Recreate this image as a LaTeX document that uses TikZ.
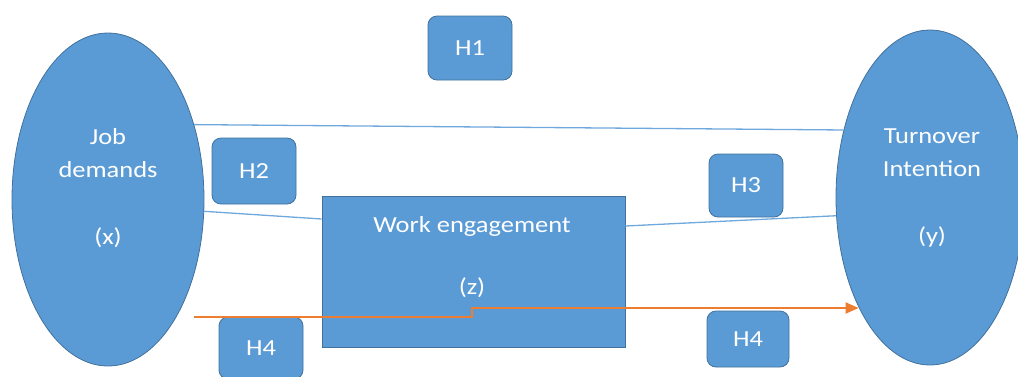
\documentclass[tikz,border=0pt]{standalone}
\usepackage{fontspec}
\setmainfont[FakeStretch=1.15]{Carlito}
\usetikzlibrary{shapes.geometric,arrows.meta,calc}
\definecolor{boxblue}{HTML}{5B9BD5}
\definecolor{edgeblue}{HTML}{41719C}
\definecolor{lineblue}{HTML}{6FA8DC}
\definecolor{arrorange}{HTML}{ED7D31}
\begin{document}
\begin{tikzpicture}[x=1pt,y=-1pt,
  oval/.style={ellipse,draw=edgeblue,fill=boxblue,line width=0.8pt,inner sep=0pt},
  hbox/.style={draw=edgeblue,fill=boxblue,line width=0.8pt,rounded corners=9pt,inner sep=0pt,
     text=white,font=\fontsize{23}{27}\selectfont},
  mainbox/.style={draw=edgeblue,fill=boxblue,line width=0.8pt,inner sep=0pt},
  lbl/.style={text=white,align=center,inner sep=0pt},
  link/.style={draw=lineblue,line width=1.3pt},
  olink/.style={draw=arrorange,line width=1.8pt,-{Triangle[length=13pt,width=11pt]}}
]
\useasboundingbox (0,0) rectangle (1018,376);
\clip (0,0) rectangle (1018,376);
% ovals
\node[oval,minimum width=192pt,minimum height=333pt] (jd) at (108,199.5) {};
\node[oval,minimum width=188pt,minimum height=335pt] (ti) at (930,197.5) {};
\node[lbl,font=\fontsize{23}{33.5}\selectfont] (jdt) at (108,188) {Job\\demands\\ \\(x)};
\node[lbl,font=\fontsize{23}{33.5}\selectfont] (tit) at (932,188) {Turnover\\Intention\\ \\(y)};
% main rectangle
\node[mainbox,minimum width=303pt,minimum height=151pt] (we) at (473.5,271.5) {};
\node[lbl,font=\fontsize{23}{31}\selectfont] (wet) at (472,257) {Work engagement\\ \\(z)};
% hypothesis boxes
\node[hbox,minimum width=84pt,minimum height=64pt] (h1) at (470,48) {H1};
\node[hbox,minimum width=84pt,minimum height=66pt] (h2) at (254,171) {H2};
\node[hbox,minimum width=74pt,minimum height=63pt] (h3) at (746,185.5) {H3};
\node[hbox,minimum width=84pt,minimum height=62pt] (h4a) at (261,348) {H4};
\node[hbox,minimum width=82pt,minimum height=56pt] (h4b) at (748,339) {H4};
% blue links
\draw[link] (jd.41) -- (ti.142.4);
\draw[link] (jd.-7) -- ([yshift=52.5pt]we.west);
\draw[link] ([yshift=45.5pt]we.east) -- (ti.191.5);
% orange arrow
\coordinate (os) at (194,317);
\coordinate (ostep) at (472,317);
\coordinate (orise) at (472,308);
\draw[olink] (os) -- (ostep) -- (orise) -- (orise -| ti.237.5);
\end{tikzpicture}
\end{document}
